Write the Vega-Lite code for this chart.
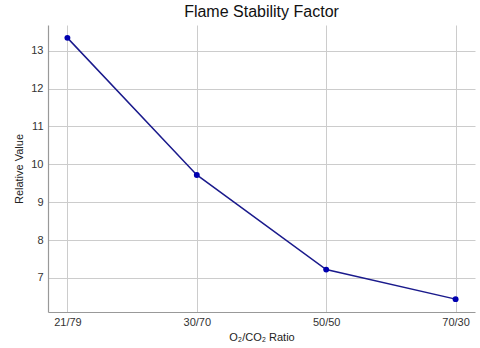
{
  "$schema": "https://vega.github.io/schema/vega-lite/v6.json",
  "autosize": {"type": "none"},
  "padding": {"left": 48, "top": 25, "right": 5, "bottom": 36},
  "width": 427,
  "height": 287,
  "background": "white",
  "title": {
    "text": "Flame Stability Factor",
    "font": "Liberation Sans",
    "fontSize": 16,
    "fontWeight": "normal",
    "color": "#111111",
    "offset": 5
  },
  "config": {
    "view": {"stroke": null},
    "axis": {
      "labelFont": "Liberation Sans",
      "titleFont": "Liberation Sans",
      "labelFontSize": 11,
      "titleFontSize": 11,
      "titleFontWeight": "normal",
      "labelColor": "#333333",
      "titleColor": "#222222",
      "gridColor": "#cccccc",
      "gridWidth": 1,
      "domainColor": "#999999",
      "domainWidth": 1.2,
      "ticks": false
    }
  },
  "data": {
    "values": [
      {"ratio": "21/79", "value": 13.34},
      {"ratio": "30/70", "value": 9.72},
      {"ratio": "50/50", "value": 7.22},
      {"ratio": "70/30", "value": 6.44}
    ]
  },
  "encoding": {
    "x": {
      "field": "ratio",
      "type": "ordinal",
      "sort": null,
      "scale": {"type": "point", "padding": 0.15},
      "axis": {"title": "O₂/CO₂ Ratio", "labelAngle": 0, "labelPadding": 4, "titlePadding": 4, "grid": true}
    },
    "y": {
      "field": "value",
      "type": "quantitative",
      "scale": {"domain": [6.1, 13.68], "nice": false, "zero": false},
      "axis": {"title": "Relative Value", "values": [7, 8, 9, 10, 11, 12, 13], "labelPadding": 5, "titlePadding": 6}
    }
  },
  "layer": [
    {"mark": {"type": "line", "color": "#1a1a8c", "strokeWidth": 1.5}},
    {"mark": {"type": "point", "filled": true, "color": "#0000b0", "size": 35, "opacity": 1}}
  ]
}
